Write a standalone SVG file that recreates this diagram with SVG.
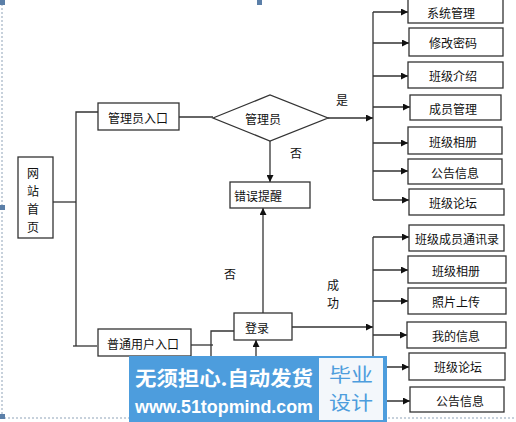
<svg xmlns="http://www.w3.org/2000/svg" width="516" height="422" viewBox="0 0 516 422">
<style>
.box{fill:#fff;stroke:#333;stroke-width:1.3}
.t{font-family:"Noto Sans CJK SC","Liberation Sans",sans-serif;font-size:12px;fill:#111;text-anchor:middle;dominant-baseline:central}
.ln{fill:none;stroke:#333;stroke-width:1.3}
.frame{fill:none;stroke:#8fa3b8;stroke-width:1;stroke-dasharray:2 2}
.h{fill:#5b7fa8}
</style>
<defs>
<marker id="ah" viewBox="0 0 10 10" refX="10" refY="5" markerWidth="8" markerHeight="7" markerUnits="userSpaceOnUse" orient="auto">
<path d="M0,0 L10,5 L0,10 z" fill="#111"/>
</marker>
</defs>
<rect width="516" height="422" fill="#fff"/>
<line class="frame" x1="2" y1="0" x2="2" y2="418"/>
<line class="frame" x1="0" y1="418" x2="516" y2="418"/>
<rect class="h" x="0" y="0" width="5" height="5"/>
<rect class="h" x="0" y="205" width="5" height="5"/>
<rect class="h" x="0" y="414" width="5" height="5"/>
<rect class="h" x="257" y="0" width="5" height="5"/>

<g id="connectors">
<polyline class="ln" points="53,202 76,202"/>
<polyline class="ln" points="98,112 76,112 76,346"/>
<polyline class="ln" points="73,346 97,346"/>
<line class="ln" x1="179" y1="117" x2="213" y2="117"/>
<line class="ln" x1="270" y1="141" x2="270" y2="182" marker-end="url(#ah)"/>
<line class="ln" x1="328" y1="118" x2="373" y2="118" marker-end="url(#ah)"/>
<line class="ln" x1="373" y1="12" x2="373" y2="200"/>
<line class="ln" x1="373" y1="12" x2="408" y2="12" marker-end="url(#ah)"/>
<line class="ln" x1="373" y1="43" x2="409" y2="43" marker-end="url(#ah)"/>
<line class="ln" x1="373" y1="76" x2="408" y2="76" marker-end="url(#ah)"/>
<line class="ln" x1="373" y1="107" x2="410" y2="107" marker-end="url(#ah)"/>
<line class="ln" x1="373" y1="143" x2="408" y2="143" marker-end="url(#ah)"/>
<line class="ln" x1="373" y1="171" x2="408" y2="171" marker-end="url(#ah)"/>
<line class="ln" x1="373" y1="200" x2="409" y2="200" marker-end="url(#ah)"/>
<line class="ln" x1="191" y1="345" x2="213" y2="345"/>
<polyline class="ln" points="234,331 211,331 211,400 256,400 256,340" marker-end="url(#ah)"/>
<line class="ln" x1="263" y1="313" x2="263" y2="208" marker-end="url(#ah)"/>
<line class="ln" x1="292" y1="327" x2="373" y2="327" marker-end="url(#ah)"/>
<line class="ln" x1="373" y1="237" x2="373" y2="401"/>
<line class="ln" x1="373" y1="237" x2="409" y2="237" marker-end="url(#ah)"/>
<line class="ln" x1="373" y1="270" x2="408" y2="270" marker-end="url(#ah)"/>
<line class="ln" x1="373" y1="301" x2="408" y2="301" marker-end="url(#ah)"/>
<line class="ln" x1="373" y1="335" x2="407" y2="335" marker-end="url(#ah)"/>
<line class="ln" x1="373" y1="367" x2="409" y2="367" marker-end="url(#ah)"/>
<line class="ln" x1="373" y1="401" x2="410" y2="401" marker-end="url(#ah)"/>
</g>

<g id="home"><rect class="box" x="18" y="157" width="35" height="81"/>
<text class="t" x="33" y="172">网</text><text class="t" x="33" y="190">站</text><text class="t" x="33" y="208">首</text><text class="t" x="33" y="226">页</text></g>
<g id="admin-entry"><rect class="box" x="98" y="103" width="81" height="27"/><text class="t" x="138" y="117">管理员入口</text></g>
<g id="user-entry"><rect class="box" x="98" y="329" width="93" height="27"/><text class="t" x="143" y="343">普通用户入口</text></g>
<g id="is-admin"><polygon class="box" points="213,118 270,95 328,118 270,141"/><text class="t" x="263" y="118">管理员</text></g>
<g id="error"><rect class="box" x="230" y="182" width="80" height="26"/><text class="t" x="258" y="195">错误提醒</text></g>
<g id="login"><rect class="box" x="234" y="313" width="58" height="27"/><text class="t" x="257" y="327">登录</text></g>

<g id="labels">
<text class="t" x="342" y="99">是</text>
<text class="t" x="296" y="152">否</text>
<text class="t" x="230" y="273">否</text>
<text class="t" x="333" y="284">成</text>
<text class="t" x="333" y="302">功</text>
</g>

<g id="a1"><rect class="box" x="408" y="-1" width="95" height="24"/><text class="t" x="451" y="12">系统管理</text></g>
<g id="a2"><rect class="box" x="409" y="28" width="94" height="28"/><text class="t" x="453" y="42">修改密码</text></g>
<g id="a3"><rect class="box" x="408" y="62" width="95" height="26"/><text class="t" x="453" y="75">班级介绍</text></g>
<g id="a4"><rect class="box" x="410" y="95" width="91" height="25"/><text class="t" x="453" y="108">成员管理</text></g>
<g id="a5"><rect class="box" x="408" y="127" width="94" height="27"/><text class="t" x="453" y="141">班级相册</text></g>
<g id="a6"><rect class="box" x="408" y="159" width="94" height="25"/><text class="t" x="455" y="172">公告信息</text></g>
<g id="a7"><rect class="box" x="409" y="189" width="95" height="26"/><text class="t" x="453" y="202">班级论坛</text></g>

<g id="u1"><rect class="box" x="409" y="225" width="95" height="26"/><text class="t" x="457" y="238">班级成员通讯录</text></g>
<g id="u2"><rect class="box" x="408" y="256" width="98" height="27"/><text class="t" x="456" y="270">班级相册</text></g>
<g id="u3"><rect class="box" x="408" y="288" width="98" height="26"/><text class="t" x="456" y="301">照片上传</text></g>
<g id="u4"><rect class="box" x="407" y="322" width="99" height="26"/><text class="t" x="456" y="335">我的信息</text></g>
<g id="u5"><rect class="box" x="409" y="353" width="96" height="27"/><text class="t" x="458" y="366">班级论坛</text></g>
<g id="u6"><rect class="box" x="410" y="387" width="94" height="25"/><text class="t" x="460" y="400">公告信息</text></g>

<g id="watermark">
<rect x="129" y="356" width="258" height="66" fill="#4d9ddd"/>
<rect x="319" y="358" width="64" height="62" fill="#f3f7fb"/>
<text x="135" y="386" font-family="Noto Sans CJK SC,sans-serif" font-size="20" font-weight="bold" fill="#fff" textLength="178" lengthAdjust="spacingAndGlyphs">无须担心.自动发货</text>
<text x="135" y="413" font-family="Liberation Sans,sans-serif" font-size="18" font-weight="bold" fill="#fff" textLength="178" lengthAdjust="spacingAndGlyphs">www.51topmind.com</text>
<text x="351" y="382" text-anchor="middle" font-family="Noto Sans CJK SC,sans-serif" font-size="19" fill="#4d9ddd" textLength="44" lengthAdjust="spacingAndGlyphs">毕业</text>
<text x="351" y="410" text-anchor="middle" font-family="Noto Sans CJK SC,sans-serif" font-size="19" fill="#4d9ddd" textLength="44" lengthAdjust="spacingAndGlyphs">设计</text>
</g>
</svg>
